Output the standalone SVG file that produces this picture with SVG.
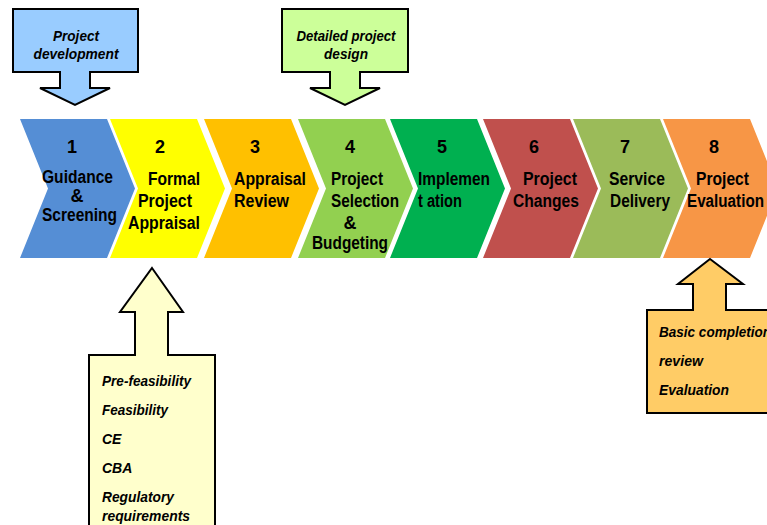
<svg xmlns="http://www.w3.org/2000/svg" width="767" height="525" viewBox="0 0 767 525">
<style>
.chev{stroke:none}
.t{font-family:"Liberation Sans",Arial,sans-serif;font-weight:bold;font-size:18px;fill:#000}
.n{text-anchor:middle}
.c{stroke:#000;stroke-width:2;stroke-linejoin:miter}
.i{font-family:"Liberation Sans",Arial,sans-serif;font-weight:bold;font-style:italic;font-size:14px;fill:#000}
.m{text-anchor:middle}
</style>
<rect width="767" height="525" fill="#fff"/>
<g id="chevrons">
<g id="step1"><polygon class="chev" fill="#558ED5" points="20,119 107,119 135,188.5 107,258 20,258 48,188.5"/>
<text class="t n" x="72" y="153">1</text>
<text class="t" x="42" y="183" textLength="71" lengthAdjust="spacingAndGlyphs">Guidance</text>
<text class="t n" x="77" y="202">&amp;</text>
<text class="t" x="42" y="221" textLength="75" lengthAdjust="spacingAndGlyphs">Screening</text></g>
<g id="step2"><polygon class="chev" fill="#FFFF00" points="110,119 197,119 225,188.5 197,258 110,258 138,188.5"/>
<text class="t n" x="160" y="153">2</text>
<text class="t" x="148" y="185" textLength="52" lengthAdjust="spacingAndGlyphs">Formal</text>
<text class="t" x="138" y="207" textLength="54" lengthAdjust="spacingAndGlyphs">Project</text>
<text class="t" x="128" y="229" textLength="72" lengthAdjust="spacingAndGlyphs">Appraisal</text></g>
<g id="step3"><polygon class="chev" fill="#FFC000" points="204,119 291,119 319,188.5 291,258 204,258 232,188.5"/>
<text class="t n" x="255" y="153">3</text>
<text class="t" x="234" y="185" textLength="72" lengthAdjust="spacingAndGlyphs">Appraisal</text>
<text class="t" x="234" y="207" textLength="55" lengthAdjust="spacingAndGlyphs">Review</text></g>
<g id="step4"><polygon class="chev" fill="#92D050" points="298,119 385,119 413,188.5 385,258 298,258 326,188.5"/>
<text class="t n" x="350" y="153">4</text>
<text class="t" x="331" y="185" textLength="52" lengthAdjust="spacingAndGlyphs">Project</text>
<text class="t" x="331" y="207" textLength="68" lengthAdjust="spacingAndGlyphs">Selection</text>
<text class="t n" x="350" y="229">&amp;</text>
<text class="t" x="312" y="249" textLength="76" lengthAdjust="spacingAndGlyphs">Budgeting</text></g>
<g id="step5"><polygon class="chev" fill="#00B050" points="390,119 477,119 505,188.5 477,258 390,258 418,188.5"/>
<text class="t n" x="442" y="153">5</text>
<text class="t" x="418" y="185" textLength="72" lengthAdjust="spacingAndGlyphs">Implemen</text>
<text class="t" x="418" y="207" textLength="44" lengthAdjust="spacingAndGlyphs">t ation</text></g>
<g id="step6"><polygon class="chev" fill="#C0504D" points="483,119 570,119 598,188.5 570,258 483,258 511,188.5"/>
<text class="t n" x="534" y="153">6</text>
<text class="t" x="523" y="185" textLength="54" lengthAdjust="spacingAndGlyphs">Project</text>
<text class="t" x="513" y="207" textLength="66" lengthAdjust="spacingAndGlyphs">Changes</text></g>
<g id="step7"><polygon class="chev" fill="#9BBB59" points="573,119 660,119 688,188.5 660,258 573,258 601,188.5"/>
<text class="t n" x="625" y="153">7</text>
<text class="t" x="609" y="185" textLength="56" lengthAdjust="spacingAndGlyphs">Service</text>
<text class="t" x="610" y="207" textLength="60" lengthAdjust="spacingAndGlyphs">Delivery</text></g>
<g id="step8"><polygon class="chev" fill="#F79646" points="663,119 750,119 778,188.5 750,258 663,258 691,188.5"/>
<text class="t n" x="714" y="153">8</text>
<text class="t" x="696" y="185" textLength="53" lengthAdjust="spacingAndGlyphs">Project</text>
<text class="t" x="687" y="207" textLength="77" lengthAdjust="spacingAndGlyphs">Evaluation</text></g>
</g>
<g id="connectors"></g>
<g id="callout-development">
<path class="c" fill="#99CCFF" d="M13,9 H138 V72 H90 V88 H110 L75,105 L40,88 H60 V72 H13 Z"/>
<text class="i m" x="76" y="41" textLength="46" lengthAdjust="spacingAndGlyphs">Project</text>
<text class="i m" x="76" y="59" textLength="85" lengthAdjust="spacingAndGlyphs">development</text>
</g>
<g id="callout-design">
<path class="c" fill="#CCFF99" d="M282,9 H408 V72 H360 V88 H380 L345,105 L310,88 H330 V72 H282 Z"/>
<text class="i m" x="346" y="41" textLength="99" lengthAdjust="spacingAndGlyphs">Detailed project</text>
<text class="i m" x="346" y="59" textLength="44" lengthAdjust="spacingAndGlyphs">design</text>
</g>
<g id="callout-appraisal">
<path class="c" fill="#FFFFCC" d="M152,268 L183,312 H168 V355 H215 V530 H89 V355 H135 V312 H120 Z"/>
<text class="i" x="102" y="386" textLength="89" lengthAdjust="spacingAndGlyphs">Pre-feasibility</text>
<text class="i" x="102" y="415" textLength="66" lengthAdjust="spacingAndGlyphs">Feasibility</text>
<text class="i" x="102" y="444">CE</text>
<text class="i" x="102" y="473">CBA</text>
<text class="i" x="102" y="502" textLength="72" lengthAdjust="spacingAndGlyphs">Regulatory</text>
<text class="i" x="102" y="521" textLength="88" lengthAdjust="spacingAndGlyphs">requirements</text>
</g>
<g id="callout-evaluation">
<path class="c" fill="#FFCC66" d="M710,259 L743,284 H726 V310 H775 V413 H647 V310 H693 V284 H678 Z"/>
<text class="i" x="659" y="337" textLength="112" lengthAdjust="spacingAndGlyphs">Basic completion</text>
<text class="i" x="659" y="366" textLength="44" lengthAdjust="spacingAndGlyphs">review</text>
<text class="i" x="659" y="395" textLength="70" lengthAdjust="spacingAndGlyphs">Evaluation</text>
</g>
</svg>
